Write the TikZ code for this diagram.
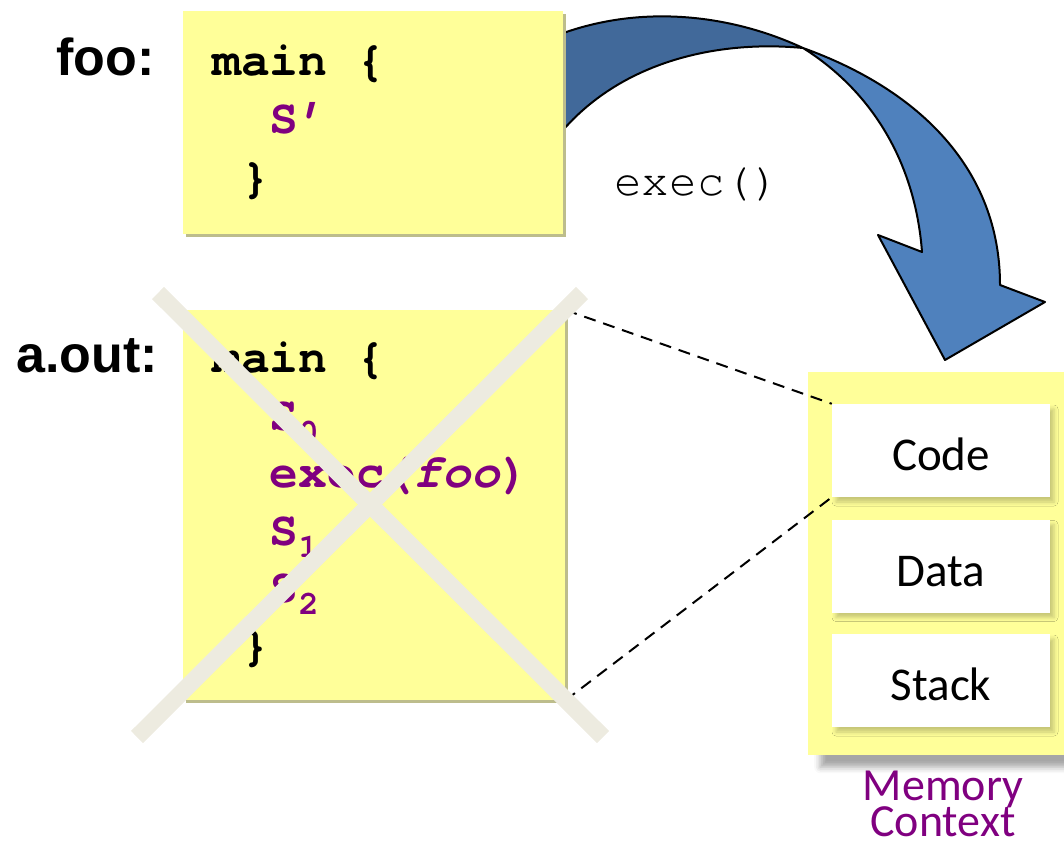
\documentclass[tikz,border=0pt]{standalone}
\usepackage{fontspec}
\setmainfont{Carlito}
\newfontfamily\labelfont{Liberation Sans}
\newfontfamily\codefont{TeX Gyre Cursor}
\usetikzlibrary{shadows,shadows.blur}

\definecolor{note}{HTML}{FFFF99}
\definecolor{noteedge}{HTML}{BDBD8C}
\definecolor{codepurple}{HTML}{800080}
\definecolor{crossout}{HTML}{EDEBE0}
\definecolor{arrowdark}{HTML}{41699A}
\definecolor{arrowlight}{HTML}{4F81BD}

\begin{document}
\begin{tikzpicture}[x=1pt,y=-1pt,
  lbl/.style={font=\labelfont\bfseries\fontsize{52}{60}\selectfont,
    anchor=base east, inner sep=0pt},
  codeline/.style={font=\codefont\bfseries\fontsize{48}{57}\selectfont,
    anchor=base west, inner sep=0pt},
  stmt/.style={codeline, text=codepurple},
  notebox/.style={fill=note, draw=none, anchor=north west, inner sep=0pt,
    general shadow={fill=noteedge, shadow xshift=3pt, shadow yshift=-3pt}},
  segbox/.style={fill=white, draw=none, inner sep=0pt,
    minimum width=218pt, minimum height=93pt,
    text height=40pt, text depth=0pt,
    font=\fontsize{47}{50}\selectfont,
    blur shadow={shadow xshift=4pt, shadow yshift=-5pt,
      shadow blur radius=4pt, shadow opacity=22}},
  memlabel/.style={font=\fontsize{46}{50}\selectfont, text=codepurple,
    anchor=base, inner sep=0pt},
  blockarrow/.style={draw=black, line width=2pt, line join=round},
  cross/.style={draw=crossout, line width=17pt},
  link/.style={draw=black, line width=2pt, dash pattern=on 12pt off 8pt}
]
\useasboundingbox (0,0) rectangle (1064,845);

% curved exec() arrow: the ribbon twists where its two edges meet
\path[blockarrow, fill=arrowdark]
  (558,35) .. controls (640,4) and (730,14) .. (803,48)
  .. controls (720,40) and (620,60) .. (558,136) -- cycle;
\path[blockarrow, fill=arrowlight]
  (803,48) .. controls (920,90) and (1000,170) .. (1000,285)
  -- (1045,302) -- (945,360) -- (878,235) -- (922,252)
  .. controls (915,160) and (870,90) .. (803,48) -- cycle;
\node[font=\codefont\fontsize{46}{50}\selectfont, anchor=base west,
  inner sep=0pt] (execlbl) at (614,195) {exec()};

% program foo
\node[notebox, minimum width=380pt, minimum height=223pt] (foobox) at (183,11) {};
\node[lbl] (foolbl) at (155,76) {foo:};
\node[codeline] (foo1) at (212,76) {main \{};
\node[stmt] (foo2) at (269.6,134) {S’};
\node[codeline] (foo3) at (240.8,192) {\}};

% program a.out
\node[notebox, minimum width=382pt, minimum height=390pt] (aoutbox) at (183,310) {};
\node[lbl] (aoutlbl) at (158,372) {a.out:};
\node[codeline] (a1) at (212,372) {main \{};
\node[stmt] (a2) at (269.6,430) {S\textsubscript{0}};
\node[stmt] (a3) at (269.6,487) {exec(\textit{foo})};
\node[stmt] (a4) at (269.6,545) {S\textsubscript{1}};
\node[stmt] (a5) at (269.6,602) {S\textsubscript{2}};
\node[codeline] (a6) at (240.8,660) {\}};

% memory context
\node[fill=note, anchor=north west, inner sep=0pt,
  minimum width=270pt, minimum height=383pt,
  blur shadow={shadow xshift=12pt, shadow yshift=-12pt,
    shadow blur radius=6pt, shadow opacity=35}] (mem) at (808,372) {};
\node[segbox] (code)  at (941,450.5) {Code};
\node[segbox] (data)  at (941,566)   {Data};
\node[segbox] (stack) at (941,680.5) {Stack};
\node[memlabel] (memtop) at (943,800) {Memory};
\node[memlabel] (membot) at (943,836) {Context};

% a.out's code maps onto the Code segment
\draw[link] (aoutbox.north east) -- (code.north west);
\draw[link] (aoutbox.south east) -- (code.south west);

% a.out is replaced
\draw[cross] (158,293) -- (603,737);
\draw[cross] (582,293) -- (137,737);
\end{tikzpicture}
\end{document}
